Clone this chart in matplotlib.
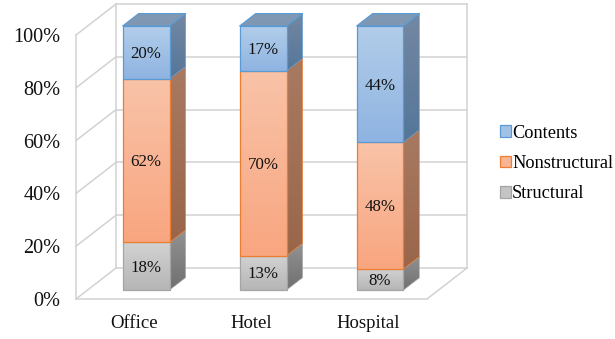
import matplotlib
matplotlib.use("Agg")
import numpy as np
import matplotlib.pyplot as plt
from matplotlib.patches import Polygon, Patch
from matplotlib.colors import LinearSegmentedColormap

categories = ["Office", "Hotel", "Hospital"]
structural = [18, 13, 8]
nonstructural = [62, 70, 48]
contents = [20, 17, 44]
y_ticks = [0, 20, 40, 60, 80, 100]

FONT = "Liberation Serif"
plt.rcParams["font.family"] = FONT

W, H = 615, 339
fig = plt.figure(figsize=(W / 100, H / 100), dpi=100)
ax = fig.add_axes([76 / W, 1 - 299 / H, 351 / W, 264 / H])
ax.set_xlim(-0.5, 2.5)
ax.set_ylim(0, 100)

# depth unit of the 3D box, in data units
DX, DY = 40 / 117, 31 / 2.64
BAR_D0, BAR_D1 = 0.29, 0.69
HALF = 0.2


def P(x, y, d=0.0):
    return (x + d * DX, y + d * DY)


GRID = "#d2d2d2"
LW = 1.1


def wall_line(a, b, lw=LW):
    ax.plot([a[0], b[0]], [a[1], b[1]], color=GRID, lw=lw, clip_on=False,
            zorder=1, solid_capstyle="projecting")


for t in y_ticks:
    wall_line(P(-0.5, t, 0), P(-0.5, t, 1))
    wall_line(P(-0.5, t, 1), P(2.5, t, 1))
wall_line(P(-0.5, 0, 0), P(-0.5, 100, 0))
wall_line(P(-0.5, 0, 1), P(-0.5, 100, 1))
wall_line(P(2.5, 0, 1), P(2.5, 100, 1))
wall_line(P(-0.5, 0, 0), P(2.5, 0, 0))
wall_line(P(2.5, 0, 0), P(2.5, 0, 1))


def grad(verts, top, bottom, edge, z, elw=0.9):
    cmap = LinearSegmentedColormap.from_list("g", [top, bottom])
    v = np.array(verts)
    im = ax.imshow(np.linspace(0, 1, 64).reshape(-1, 1), cmap=cmap, aspect="auto",
                   extent=[v[:, 0].min(), v[:, 0].max(), v[:, 1].min(), v[:, 1].max()],
                   origin="upper", zorder=z, interpolation="bilinear")
    poly = Polygon(verts, closed=True, facecolor="none", edgecolor=edge, lw=elw,
                   zorder=z + 0.1, clip_on=False, joinstyle="round")
    ax.add_patch(poly)
    im.set_clip_box(fig.bbox)
    im.set_clip_path(poly)


series = [
    ("Structural", structural, dict(front=("#d2d2d2", "#b6b6b6"), side=("#929292", "#707070"),
                                    top=("#8f8f8f", "#8f8f8f"), edge="#a5a5a5")),
    ("Nonstructural", nonstructural, dict(front=("#f8c3a8", "#f9a680"), side=("#a87a62", "#99664a"),
                                          top=("#a87a62", "#a87a62"), edge="#ed7d31")),
    ("Contents", contents, dict(front=("#b2cdea", "#8fb4e1"), side=("#7488a2", "#557699"),
                                top=("#8299b3", "#7f97b3"), edge="#5b9bd5")),
]

for i in range(len(categories)):
    base = 0
    for s, (name, vals, st) in enumerate(series):
        v = vals[i]
        lo, hi = base, base + v
        xl, xr = i - HALF, i + HALF
        z = 3 + s
        # side face
        grad([P(xr, lo, BAR_D0), P(xr, lo, BAR_D1), P(xr, hi, BAR_D1), P(xr, hi, BAR_D0)],
             *st["side"], st["edge"], z, elw=0.5)
        if s == len(series) - 1:
            grad([P(xl, hi, BAR_D0), P(xr, hi, BAR_D0), P(xr, hi, BAR_D1), P(xl, hi, BAR_D1)],
                 *st["top"], st["edge"], z)
        # front face
        grad([P(xl, lo, BAR_D0), P(xr, lo, BAR_D0), P(xr, hi, BAR_D0), P(xl, hi, BAR_D0)],
             *st["front"], st["edge"], z + 0.3)
        ax.annotate(f"{v}%", P(i, (lo + hi) / 2, BAR_D0), xytext=(0, -1.1),
                    textcoords="offset points", ha="center", va="center", fontsize=12.2,
                    color="#111111", zorder=10)
        base = hi

ax.set_xlim(-0.5, 2.5)
ax.set_ylim(0, 100)
ax.set_xticks(range(len(categories)), categories)
ax.set_yticks(y_ticks, [f"{t}%" for t in y_ticks])
ax.tick_params(axis="both", length=0, colors="#111111")
ax.tick_params(axis="x", pad=11.5, labelsize=13.5)
ax.tick_params(axis="y", pad=11, labelsize=14.6)
for sp in ax.spines.values():
    sp.set_visible(False)
ax.patch.set_visible(False)

handles = [Patch(facecolor=np.mean([matplotlib.colors.to_rgb(c) for c in st["front"]], axis=0),
                 edgecolor=st["edge"], lw=0.9, label=name)
           for name, _, st in reversed(series)]
fig.legend(handles=handles, loc="center left", bbox_to_anchor=(498 / W, 1 - 163.5 / H),
           frameon=False, fontsize=13.2, handlelength=0.62, handleheight=0.62,
           handletextpad=0.05, labelspacing=0.72, borderpad=0.1, borderaxespad=0)

fig.savefig("out.png", dpi=100)
